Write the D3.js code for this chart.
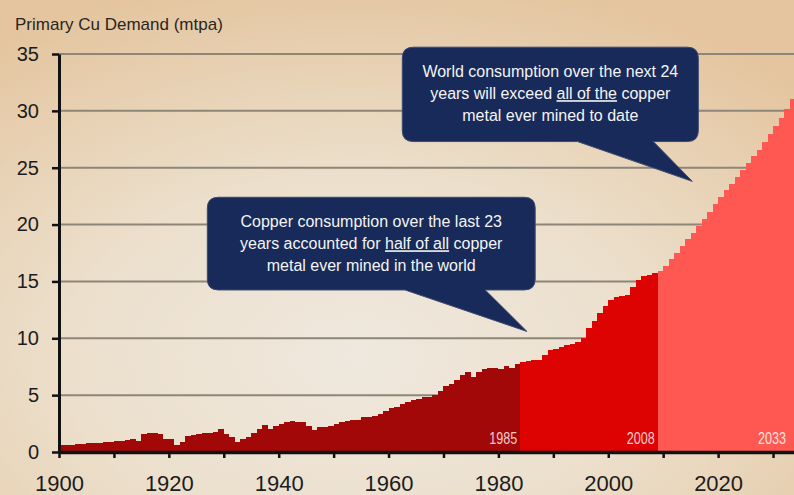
<!DOCTYPE html>
<html>
<head>
<meta charset="utf-8">
<script src="https://cdn.jsdelivr.net/npm/d3@7"></script>
<style>
  html, body { margin: 0; padding: 0; background: #ece2d3; }
  svg { display: block; }
  text { font-family: "Liberation Sans", Arial, sans-serif; }
</style>
</head>
<body>
<svg id="chart" width="794" height="495"></svg>
<script>
// ---------------- DATA ----------------
const titleText = "Primary Cu Demand (mtpa)";
const firstYear = 1900;
// Primary copper demand, million tonnes per annum, 1900-2008 (actual)
const historicalValues = [
  0.6, 0.6, 0.65, 0.7, 0.7, 0.75, 0.8, 0.8, 0.85, 0.9,          // 1900-1909
  0.95, 1.0, 1.05, 1.1, 1.0, 1.6, 1.65, 1.65, 1.6, 1.1,         // 1910-1919
  1.1, 0.6, 0.9, 1.4, 1.5, 1.6, 1.7, 1.7, 1.8, 2.0,             // 1920-1929
  1.6, 1.3, 0.9, 1.1, 1.35, 1.7, 2.0, 2.4, 2.0, 2.3,            // 1930-1939
  2.5, 2.6, 2.7, 2.65, 2.6, 2.3, 1.9, 2.2, 2.2, 2.3,            // 1940-1949
  2.5, 2.6, 2.7, 2.8, 2.8, 3.1, 3.1, 3.2, 3.3, 3.6,             // 1950-1959
  3.85, 4.0, 4.2, 4.4, 4.6, 4.7, 4.8, 4.8, 5.0, 5.4,            // 1960-1969
  5.8, 6.0, 6.3, 6.8, 7.0, 6.6, 7.0, 7.3, 7.4, 7.4,             // 1970-1979
  7.3, 7.6, 7.4, 7.7, 7.9, 8.0, 8.1, 8.1, 8.5, 9.0,             // 1980-1989
  9.1, 9.2, 9.4, 9.5, 9.7, 10.0, 10.9, 11.5, 12.2, 12.8,        // 1990-1999
  13.4, 13.6, 13.7, 13.8, 14.5, 15.1, 15.5, 15.6, 15.7          // 2000-2008
];
// Forecast 2009-2033
const forecastValues = [
  15.9, 16.4, 17.0, 17.5, 18.1, 18.7, 19.3, 19.9, 20.5, 21.1,   // 2009-2018
  21.8, 22.4, 23.0, 23.6, 24.2, 24.8, 25.4, 26.0, 26.6, 27.3,   // 2019-2028
  28.0, 28.7, 29.4, 30.2, 31.0                                  // 2029-2033
];
// Periods: start year, end year (exclusive), label, colour
const periodStarts = [1900, 1984, 2009];
const periodEnds   = [1984, 2009, 2034];
const periodLabels = ["1985", "2008", "2033"];
const periodColors = ["#a30808", "#dd0303", "#ff5752"];

const yTickValues = [0, 5, 10, 15, 20, 25, 30, 35];
const xTickValues = [1900, 1910, 1920, 1930, 1940, 1950, 1960, 1970, 1980, 1990, 2000, 2010, 2020, 2030];
const xLabelValues = [1900, 1920, 1940, 1960, 1980, 2000, 2020];

// Callouts (positions in data units)
const callouts = [
  {
    lines: [
      [{t: "Copper consumption over the last 23"}],
      [{t: "years accounted for "}, {t: "half of all", u: true}, {t: " copper"}],
      [{t: "metal ever mined in the world"}]
    ],
    box: {x0: 1927.0, x1: 1986.7, yTop: 22.4, yBot: 14.25},
    tailBase: [1963.0, 1977.6],
    tip: [1985.2, 10.6]
  },
  {
    lines: [
      [{t: "World consumption over the next 24"}],
      [{t: "years will exceed "}, {t: "all of the", u: true}, {t: " copper"}],
      [{t: "metal ever mined to date"}]
    ],
    box: {x0: 1962.5, x1: 2016.4, yTop: 35.6, yBot: 27.3},
    tailBase: [1994.4, 2008.2],
    tip: [2015.3, 23.8]
  }
];

// ---------------- CHART ----------------
const W = 794, H = 495;
const svg = d3.select("#chart");

const allValues = historicalValues.concat(forecastValues);
const bars = allValues.map((v, i) => ({year: firstYear + i, value: v}));

const x = d3.scaleLinear().domain([1900, 2034]).range([59, 795]);
const y = d3.scaleLinear().domain([0, 35]).range([452, 54]);

// background
const defs = svg.append("defs");
const rg = defs.append("radialGradient").attr("id", "bg")
  .attr("cx", "45%").attr("cy", "72%").attr("r", "78%");
rg.append("stop").attr("offset", "0%").attr("stop-color", "#efe8de");
rg.append("stop").attr("offset", "45%").attr("stop-color", "#ece0cd");
rg.append("stop").attr("offset", "100%").attr("stop-color", "#e4c59f");
svg.append("rect").attr("width", W).attr("height", H).attr("fill", "url(#bg)");

// title
svg.append("text").attr("x", 15).attr("y", 30)
  .attr("font-size", 17).attr("fill", "#2a2520").text(titleText);

// grid lines
svg.append("g").selectAll("line")
  .data(yTickValues.filter(d => d > 0))
  .join("line")
  .attr("x1", x(1900)).attr("x2", W)
  .attr("y1", d => y(d)).attr("y2", d => y(d))
  .attr("stroke", "#8e8677").attr("stroke-width", 2);

// stepped bars, one area per period
const area = d3.area()
  .x(d => x(d.year))
  .y0(y(0))
  .y1(d => y(d.value))
  .curve(d3.curveStepAfter);

const periodData = periodStarts.map((s, i) => {
  const pts = bars.filter(d => d.year >= s && d.year < periodEnds[i]);
  pts.push({year: periodEnds[i], value: pts[pts.length - 1].value});
  return pts;
});
svg.append("g").selectAll("path")
  .data(periodData)
  .join("path")
  .attr("d", area)
  .attr("fill", (d, i) => periodColors[i])
  .attr("shape-rendering", "crispEdges");

// period labels
svg.append("g").selectAll("text")
  .data(periodLabels)
  .join("text")
  .attr("x", (d, i) => Math.min(x(periodEnds[i]) - 3, W - 8))
  .attr("y", 444)
  .attr("text-anchor", "end")
  .attr("font-size", 16)
  .attr("textLength", 28)
  .attr("lengthAdjust", "spacingAndGlyphs")
  .attr("fill", (d, i) => i === 2 ? "#fde2dc" : "#f4cccc")
  .text(d => d);

// y axis
const yAxis = svg.append("g").attr("transform", `translate(${x(1900)},0)`)
  .call(d3.axisLeft(y).tickValues(yTickValues).tickSize(7).tickPadding(13).tickSizeOuter(0));
yAxis.select(".domain").attr("stroke", "#111").attr("stroke-width", 3);
yAxis.selectAll(".tick line").attr("stroke", "#111").attr("stroke-width", 2.5);
yAxis.selectAll(".tick text").attr("font-size", 20).attr("fill", "#1c1c1c")
  .attr("font-family", "Liberation Sans, Arial, sans-serif");

// x axis
const xAxis = svg.append("g").attr("transform", `translate(0,${y(0)})`)
  .call(d3.axisBottom(x).tickValues(xTickValues)
    .tickFormat(d => xLabelValues.includes(d) ? String(d) : "")
    .tickSize(6).tickPadding(17).tickSizeOuter(0));
xAxis.select(".domain").attr("stroke", "#111").attr("stroke-width", 3.5);
xAxis.selectAll(".tick line").attr("stroke", "#111").attr("stroke-width", 2.5);
xAxis.selectAll(".tick text").attr("font-size", 22).attr("fill", "#1c1c1c")
  .attr("font-family", "Liberation Sans, Arial, sans-serif");

// callouts
callouts.forEach(c => {
  const bx0 = x(c.box.x0), bx1 = x(c.box.x1), by0 = y(c.box.yTop), by1 = y(c.box.yBot);
  const r = 11;
  const t0 = x(c.tailBase[0]), t1 = x(c.tailBase[1]);
  const tx = x(c.tip[0]), ty = y(c.tip[1]);
  const p = d3.path();
  p.moveTo(bx0 + r, by0);
  p.lineTo(bx1 - r, by0);
  p.quadraticCurveTo(bx1, by0, bx1, by0 + r);
  p.lineTo(bx1, by1 - r);
  p.quadraticCurveTo(bx1, by1, bx1 - r, by1);
  p.lineTo(t1, by1);
  p.lineTo(tx, ty);
  p.lineTo(t0, by1);
  p.lineTo(bx0 + r, by1);
  p.quadraticCurveTo(bx0, by1, bx0, by1 - r);
  p.lineTo(bx0, by0 + r);
  p.quadraticCurveTo(bx0, by0, bx0 + r, by0);
  p.closePath();
  svg.append("path").attr("d", p.toString())
    .attr("fill", "#172a5a").attr("stroke", "#3d4a6e").attr("stroke-width", 1);

  const cx = (bx0 + bx1) / 2;
  const offs = [30, 52, 74];
  c.lines.forEach((line, i) => {
    const t = svg.append("text").attr("x", cx).attr("y", by0 + offs[i])
      .attr("text-anchor", "middle").attr("font-size", 16).attr("fill", "#f4f4f4");
    line.forEach(seg => {
      const ts = t.append("tspan").text(seg.t);
      if (seg.u) ts.attr("text-decoration", "underline");
    });
  });
});
</script>
</body>
</html>
